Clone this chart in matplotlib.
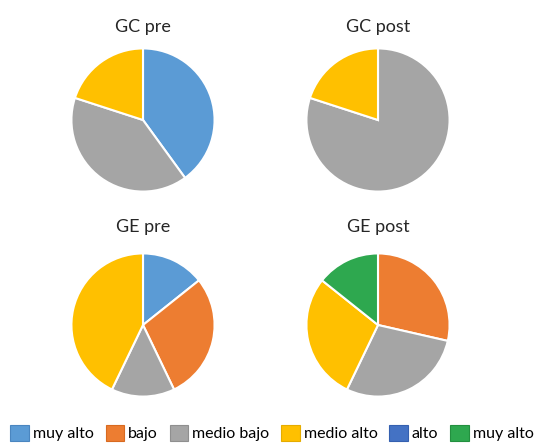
import matplotlib
matplotlib.use("Agg")
import matplotlib.pyplot as plt
from matplotlib.patches import Patch

plt.rcParams['font.family'] = ['Lato', 'DejaVu Sans']

categories = ["muy alto", "bajo", "medio bajo", "medio alto", "alto", "muy alto"]
colors = ["#5B9BD5", "#ED7D31", "#A5A5A5", "#FFC000", "#4472C4", "#2EA84F"]
edge_colors = ["#4A86C0", "#D86A20", "#8F8F8F", "#E5AC00", "#3560B0", "#23903F"]

titles = ["GC pre", "GC post", "GE pre", "GE post"]
gc_pre = [40, 0, 40, 20, 0, 0]
gc_post = [0, 0, 80, 20, 0, 0]
ge_pre = [1, 2, 1, 3, 0, 0]
ge_post = [0, 2, 2, 2, 0, 1]
series = [gc_pre, gc_post, ge_pre, ge_post]

W, H = 535, 444
fig = plt.figure(figsize=(W / 100, H / 100), dpi=100)

centers = [(143, 120), (378, 120), (143, 325), (378, 325)]
title_y = [27, 27, 227, 227]
R = 73

for (cx, cy), ty, title, vals in zip(centers, title_y, titles, series):
    ax = fig.add_axes([(cx - R) / W, (H - cy - R) / H, 2 * R / W, 2 * R / H])
    sizes = [v for v in vals if v > 0]
    cols = [c for v, c in zip(vals, colors) if v > 0]
    ax.pie(sizes, colors=cols, startangle=90, counterclock=False, radius=1,
           wedgeprops=dict(edgecolor="white", linewidth=1.5))
    ax.set_xlim(-1.02, 1.02)
    ax.set_ylim(-1.02, 1.02)
    ax.set_aspect("equal")
    ax.axis("off")
    fig.text(cx / W, 1 - ty / H, title, ha="center", va="center",
             fontsize=13, color="#262626")

handles = [Patch(facecolor=c, edgecolor=e, linewidth=0.8)
           for c, e in zip(colors, edge_colors)]
fig.legend(handles, categories, loc="center", bbox_to_anchor=(272 / W, 1 - 433 / H),
           ncol=6, frameon=False, fontsize=11.5, handlelength=1.15, handleheight=1.15,
           handletextpad=0.25, columnspacing=0.75, borderaxespad=0, borderpad=0)

fig.savefig("out.png", dpi=100, facecolor="white")
